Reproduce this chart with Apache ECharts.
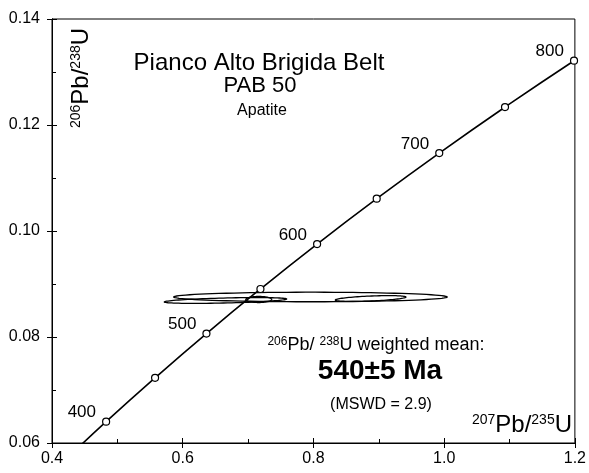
<!DOCTYPE html>
<html>
<head>
<meta charset="utf-8">
<script src="https://cdn.jsdelivr.net/npm/echarts@6/dist/echarts.min.js"></script>
<style>
html,body{margin:0;padding:0;background:#fff;}
#chart{width:589px;height:473px;}
</style>
</head>
<body>
<div id="chart"></div>
<script>
// Concordia curve (ages in Ma, 207Pb/235U, 206Pb/238U)
const concordiaAges = [350, 400, 450, 500, 550, 600, 650, 700, 750, 800, 850];
const concordiaX = [0.4116, 0.4828, 0.5577, 0.6363, 0.7189, 0.8056, 0.8968, 0.9925, 1.0931, 1.1987, 1.3097];
const concordiaY = [0.05580, 0.06402, 0.07230, 0.08065, 0.08906, 0.09754, 0.10609, 0.11470, 0.12338, 0.13213, 0.14094];
// Age markers on concordia
const markerAges = [400, 450, 500, 550, 600, 650, 700, 750, 800];
const labelledAges = [400, 500, 600, 700, 800];

// Error ellipses (centre, half-widths, tilt)
const ellipseCX = [0.7954, 0.6654, 0.7163, 0.8875];
const ellipseCY = [0.08755, 0.08689, 0.08708, 0.08726];
const ellipseRX = [0.2091, 0.0935, 0.0198, 0.0540];
const ellipseRY = [0.00090, 0.00047, 0.00057, 0.00047];
const ellipseTilt = [0.0, 0.003, 0.0, 0.0052];

// Axis ticks
const xTicks = [0.4, 0.6, 0.8, 1.0, 1.2];
const yTicks = [0.06, 0.08, 0.10, 0.12, 0.14];

const FONT = "'Liberation Sans', Arial, sans-serif";

const lineData = concordiaAges.map((a, i) => [concordiaX[i], concordiaY[i]]);
const markerData = markerAges.map(a => {
  const i = concordiaAges.indexOf(a);
  return [concordiaX[i], concordiaY[i], a];
});
const ellipseData = ellipseCX.map((c, i) => [c, ellipseCY[i], ellipseRX[i], ellipseRY[i], ellipseTilt[i]]);

const xMin = xTicks[0], xMax = xTicks[xTicks.length - 1], xInt = +(xTicks[1] - xTicks[0]).toFixed(4);
const yMin = yTicks[0], yMax = yTicks[yTicks.length - 1], yInt = +(yTicks[1] - yTicks[0]).toFixed(4);

function axisLineStyle() { return { show: true, onZero: false, lineStyle: { color: '#000', width: 1 } }; }

function xAxisBase(extra) {
  return Object.assign({
    type: 'value', min: xMin, max: xMax, interval: xInt,
    axisLine: axisLineStyle(), splitLine: { show: false }
  }, extra);
}
function yAxisBase(extra) {
  return Object.assign({
    type: 'value', min: yMin, max: yMax, interval: yInt,
    axisLine: axisLineStyle(), splitLine: { show: false }
  }, extra);
}

const chart = echarts.init(document.getElementById('chart'), null, { renderer: 'canvas' });
chart.setOption({
  animation: false,
  backgroundColor: '#fff',
  grid: { left: 52, right: 11, top: 19, bottom: 30, show: true, borderColor: '#000', borderWidth: 1, backgroundColor: 'transparent' },
  xAxis: [
    xAxisBase({
      position: 'bottom',
      axisTick: { show: true, inside: false, length: 5, lineStyle: { color: '#000' } },
      axisLabel: { show: true, color: '#000', fontSize: 16, fontFamily: FONT, margin: 8, formatter: v => v.toFixed(1) }
    }),
    xAxisBase({
      position: 'bottom', offset: 0,
      axisTick: { show: true, inside: false, length: -5, lineStyle: { color: '#000', width: 1 } },
      minorTick: { show: true, splitNumber: 2, length: -4, lineStyle: { color: '#000', width: 1 } },
      axisLabel: { show: false }
    })
  ],
  yAxis: [
    yAxisBase({
      position: 'left',
      axisTick: { show: true, inside: false, length: 5, lineStyle: { color: '#000' } },
      axisLabel: { show: true, color: '#000', fontSize: 16, fontFamily: FONT, margin: 12, formatter: v => v.toFixed(2) }
    }),
    yAxisBase({
      position: 'left', offset: 0,
      axisTick: { show: true, inside: false, length: -5, lineStyle: { color: '#000', width: 1 } },
      minorTick: { show: true, splitNumber: 2, length: -4, lineStyle: { color: '#000', width: 1 } },
      axisLabel: { show: false }
    })
  ],
  series: [
    {
      type: 'custom',
      xAxisIndex: 0, yAxisIndex: 0,
      clip: true,
      encode: { x: 0, y: 1 },
      data: ellipseData,
      renderItem: function (params, api) {
        const cx = api.value(0), cy = api.value(1), rx = api.value(2), ry = api.value(3), k = api.value(4);
        const pts = [];
        for (let i = 0; i <= 90; i++) {
          const t = i / 90 * 2 * Math.PI;
          const dx = rx * Math.cos(t);
          pts.push(api.coord([cx + dx, cy + ry * Math.sin(t) + k * dx]));
        }
        return { type: 'polygon', shape: { points: pts }, style: { fill: 'none', stroke: '#000', lineWidth: 1.3 } };
      },
      z: 2
    },
    {
      type: 'line',
      xAxisIndex: 0, yAxisIndex: 0,
      data: lineData,
      smooth: true,
      showSymbol: false,
      clip: true,
      lineStyle: { color: '#000', width: 1.6 },
      z: 3
    },
    {
      type: 'scatter',
      xAxisIndex: 0, yAxisIndex: 0,
      data: markerData,
      symbol: 'circle',
      symbolSize: 7,
      itemStyle: { color: '#fff', borderColor: '#000', borderWidth: 1.2, opacity: 1 },
      label: {
        show: true,
        position: 'left',
        distance: 6,
        offset: [0, -9],
        color: '#000',
        fontSize: 17,
        fontFamily: FONT,
        formatter: p => labelledAges.indexOf(p.value[2]) >= 0 ? String(p.value[2]) : ''
      },
      z: 4
    }
  ],
  graphic: [
    { type: 'text', x: 259, y: 63, style: { text: 'Pianco Alto Brigida Belt', font: '24px ' + FONT, fill: '#000', align: 'center', verticalAlign: 'middle' } },
    { type: 'text', x: 260, y: 86, style: { text: 'PAB 50', font: '22px ' + FONT, fill: '#000', align: 'center', verticalAlign: 'middle' } },
    { type: 'text', x: 262, y: 111, style: { text: 'Apatite', font: '16px ' + FONT, fill: '#000', align: 'center', verticalAlign: 'middle' } },
    {
      type: 'text', x: 81, y: 78, rotation: Math.PI / 2,
      style: {
        text: '{s|206}{m|Pb/}{s|238}{m|U}', align: 'center', verticalAlign: 'middle',
        rich: {
          s: { fontSize: 14, fontFamily: FONT, fill: '#000', verticalAlign: 'top', lineHeight: 24 },
          m: { fontSize: 24, fontFamily: FONT, fill: '#000', lineHeight: 24 }
        }
      }
    },
    {
      type: 'text', x: 572, y: 425,
      style: {
        text: '{s|207}{m|Pb/}{s|235}{m|U}', align: 'right', verticalAlign: 'middle',
        rich: {
          s: { fontSize: 14, fontFamily: FONT, fill: '#000', verticalAlign: 'top', lineHeight: 24 },
          m: { fontSize: 24, fontFamily: FONT, fill: '#000', lineHeight: 24 }
        }
      }
    },
    {
      type: 'text', x: 376, y: 345,
      style: {
        text: '{s|206}{m|Pb/ }{s|238}{m|U weighted mean:}', align: 'center', verticalAlign: 'middle',
        rich: {
          s: { fontSize: 12, fontFamily: FONT, fill: '#000', verticalAlign: 'top', lineHeight: 18 },
          m: { fontSize: 18, fontFamily: FONT, fill: '#000', lineHeight: 18 }
        }
      }
    },
    { type: 'text', x: 380, y: 371, style: { text: '540±5 Ma', font: 'bold 28px ' + FONT, fill: '#000', align: 'center', verticalAlign: 'middle' } },
    { type: 'text', x: 381, y: 405, style: { text: '(MSWD = 2.9)', font: '16px ' + FONT, fill: '#000', align: 'center', verticalAlign: 'middle' } }
  ]
});
</script>
</body>
</html>
